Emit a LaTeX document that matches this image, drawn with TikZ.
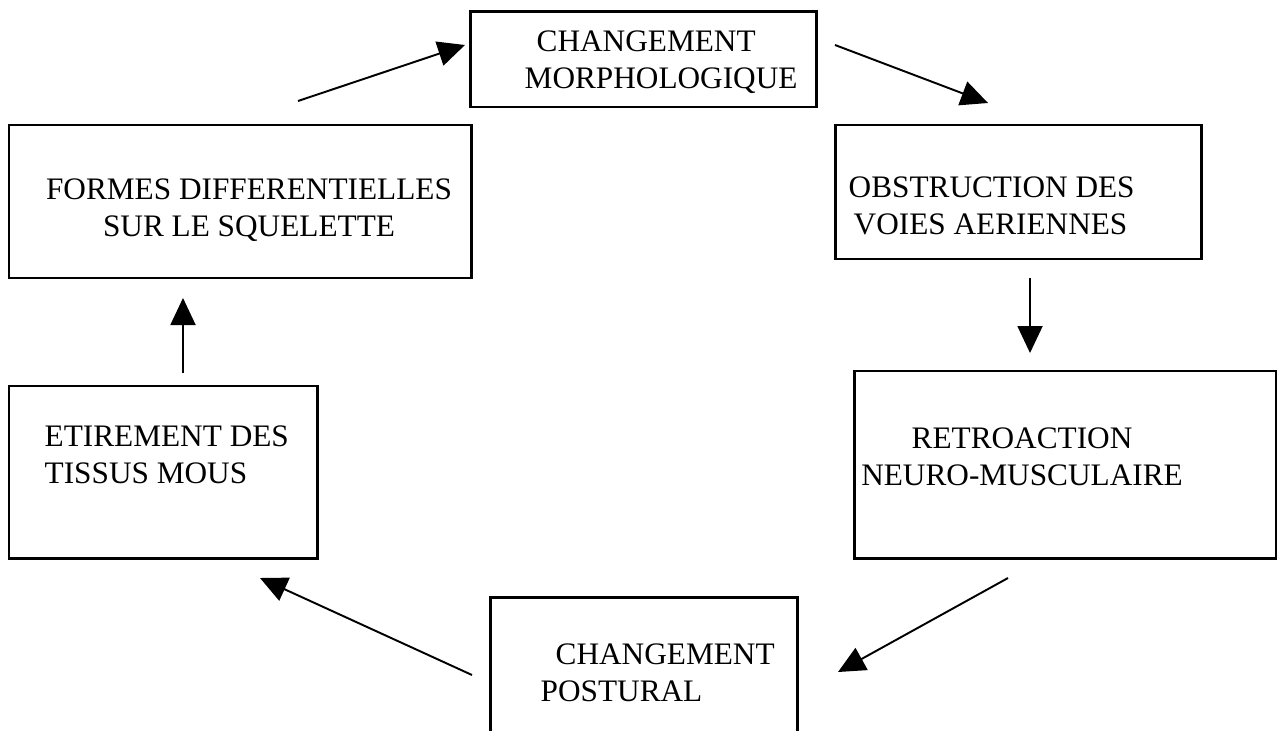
\documentclass[tikz,border=0pt]{standalone}
\usepackage{fontspec}
\setmainfont{Liberation Serif}
\usetikzlibrary{arrows.meta}

\tikzset{
  box/.style={draw, line width=0.85pt, inner sep=0pt},
  txt/.style={font=\fontsize{8.9}{10.5}\selectfont, inner sep=0pt},
  arr/.style={line width=0.55pt, -{Triangle[length=0.27cm, width=0.25cm]}}
}

\begin{document}
\begin{tikzpicture}
  \useasboundingbox (0, 0) rectangle (12.77, -7.31);
  \clip (0, 0) rectangle (12.77, -7.31);

  % boxes
  \node[box, minimum width=3.46cm, minimum height=0.95cm] (morph) at (6.43, -0.595) {};
  \node[box, minimum width=4.62cm, minimum height=1.53cm] (formes) at (2.40, -2.015) {};
  \node[box, minimum width=3.66cm, minimum height=1.34cm] (obstr) at (10.18, -1.92) {};
  \node[box, minimum width=4.22cm, minimum height=1.87cm] (retro) at (10.65, -4.645) {};
  \node[box, minimum width=3.08cm, minimum height=1.72cm] (etire) at (1.63, -4.72) {};
  \node[box, minimum width=3.07cm, minimum height=2.03cm] (postur) at (6.435, -6.985) {};

  % texts
  \node[txt, align=left, anchor=west] (morphtxt) at (5.24, -0.62) {\hspace{0.12cm}CHANGEMENT\\MORPHOLOGIQUE};
  \node[txt, align=center] (formestxt) at (2.49, -2.10) {FORMES DIFFERENTIELLES\\SUR LE SQUELETTE};
  \node[txt, align=left, anchor=west] (obstrtxt) at (8.48, -2.06) {OBSTRUCTION DES\\\hspace{0.05cm}VOIES AERIENNES};
  \node[txt, align=center] (retrotxt) at (10.22, -4.57) {RETROACTION\\NEURO-MUSCULAIRE};
  \node[txt, align=left, anchor=west] (etiretxt) at (0.44, -4.55) {ETIREMENT DES\\TISSUS MOUS};
  \node[txt, align=left, anchor=west] (posturtxt) at (5.40, -6.73) {\hspace{0.15cm}CHANGEMENT\\POSTURAL};

  % arrow ends
  \coordinate (a1) at (2.98, -1.01);
  \coordinate (b1) at (4.65, -0.45);
  \coordinate (a2) at (8.35, -0.45);
  \coordinate (b2) at (9.88, -1.03);
  \coordinate (a3) at (10.30, -2.78);
  \coordinate (b3) at (10.30, -3.53);
  \coordinate (a4) at (10.08, -5.78);
  \coordinate (b4) at (8.38, -6.72);
  \coordinate (a5) at (4.72, -6.75);
  \coordinate (b5) at (2.60, -5.78);
  \coordinate (a6) at (1.83, -3.73);
  \coordinate (b6) at (1.83, -2.98);

  \draw[arr] (a1) -- (b1);
  \draw[arr] (a2) -- (b2);
  \draw[arr] (a3) -- (b3);
  \draw[arr] (a4) -- (b4);
  \draw[arr] (a5) -- (b5);
  \draw[arr] (a6) -- (b6);
\end{tikzpicture}
\end{document}
